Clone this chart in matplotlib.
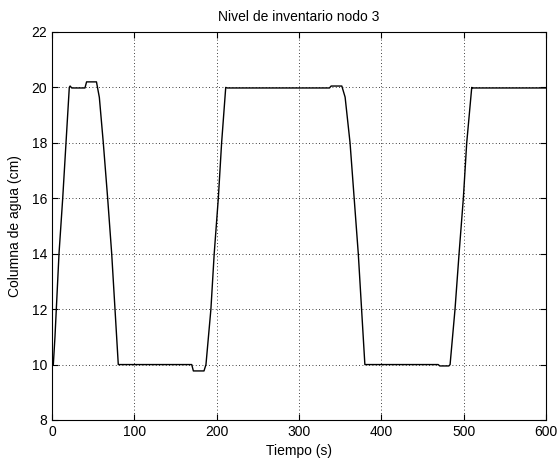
import numpy as np
import matplotlib.pyplot as plt

plt.rcParams['font.family'] = ['Liberation Sans', 'DejaVu Sans']

# tiempo (s) y nivel (cm)
tiempo = [0, 1.6, 3.6, 8.5, 13, 17, 21, 22, 24, 40, 42, 54, 57.5, 62.3, 67.6,
          72.5, 76.5, 80.5, 169.7, 171.7, 184.6, 187, 193, 197, 202, 206, 211,
          213, 337, 339, 352, 356, 362, 367, 372, 376, 380, 469, 471, 482,
          483.5, 489.5, 494.4, 499.6, 503.7, 509.8, 511, 600]
nivel = [10, 10, 11, 14, 16, 18, 20, 20.05, 19.98, 19.98, 20.2, 20.2, 19.64, 18, 16,
         14, 12, 10, 10, 9.77, 9.77, 10, 12, 14, 16, 18, 20,
         19.98, 19.98, 20.05, 20.05, 19.65, 18, 16, 14, 12, 10, 10, 9.95, 9.95,
         10, 12, 14, 16, 18, 20, 19.98, 19.98]

fig = plt.figure(figsize=(5.58, 4.63), dpi=100)
ax = fig.add_axes([0.0932, 0.0929, 0.8853, 0.838])

ax.plot(tiempo, nivel, color='black', linewidth=1.0)

ax.set_xlim(0, 600)
ax.set_ylim(8, 22)
ax.set_xticks(np.arange(0, 601, 100))
ax.set_yticks(np.arange(8, 23, 2))
ax.grid(True, color='black', linestyle=(0, (1, 3)), linewidth=0.6)
ax.tick_params(direction='in', top=True, right=True, length=4, labelsize=10)
for s in ax.spines.values():
    s.set_linewidth(0.8)

ax.set_title('Nivel de inventario nodo 3', fontsize=10, pad=8)
ax.set_xlabel('Tiempo (s)', fontsize=10, labelpad=4)
ax.set_ylabel('Columna de agua (cm)', fontsize=10, labelpad=7)

fig.savefig('out.png', dpi=100)
